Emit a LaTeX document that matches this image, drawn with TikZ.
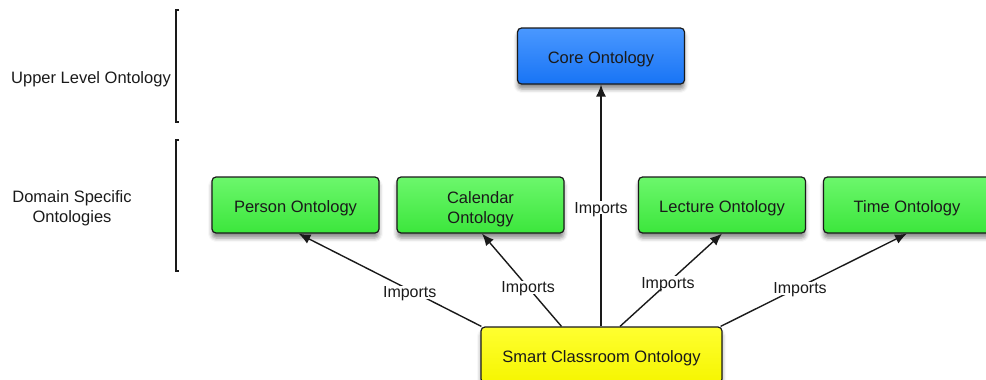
\documentclass[tikz,border=0pt]{standalone}
\usepackage{fontspec}
\setmainfont{Liberation Sans}
\usetikzlibrary{arrows.meta,shadows.blur}

\definecolor{inkdark}{HTML}{1A1A1A}
\definecolor{greenlight}{HTML}{6CF76C}
\definecolor{greendark}{HTML}{3CE63C}
\definecolor{bluelight}{HTML}{4A98FF}
\definecolor{bluedark}{HTML}{1874F5}
\definecolor{yellowlight}{HTML}{FFFF30}
\definecolor{yellowdark}{HTML}{F5F500}

\tikzset{
  onto/.style={draw=inkdark, line width=1.2pt, rounded corners=4pt,
    minimum width=167pt, minimum height=56pt, align=center,
    text=inkdark, font=\fontsize{16.5}{20}\selectfont,
    text height=15pt, text depth=0pt,
    blur shadow={shadow xshift=0pt, shadow yshift=-5pt,
      shadow blur radius=4pt, shadow opacity=45}},
  twolines/.style={text height=36pt, text depth=0pt},
  greenbox/.style={onto, top color=greenlight, bottom color=greendark},
  bluebox/.style={onto, top color=bluelight, bottom color=bluedark},
  yellowbox/.style={onto, top color=yellowlight, bottom color=yellowdark,
    minimum width=241pt},
  imp/.style={-{Latex[length=12pt,width=10pt]}, line width=1.4pt, draw=inkdark},
  implabel/.style={fill=white, inner sep=1pt, text=inkdark, text depth=0pt,
    font=\fontsize{16}{19}\selectfont},
  sidelabel/.style={align=center, text=inkdark, text depth=0pt,
    font=\fontsize{16.5}{20}\selectfont},
  bracketline/.style={line width=1.5pt, draw=inkdark}
}

\begin{document}
\begin{tikzpicture}[x=1pt, y=-1pt]
  \useasboundingbox (0,0) rectangle (986,380);
  \clip (0,0) rectangle (986,380);

  % level labels with their brackets
  \node[sidelabel] (upper) at (91,78) {Upper Level Ontology};
  \node[sidelabel] (domain) at (72,207) {Domain Specific\\Ontologies};
  \coordinate (b1top) at (176,10);
  \coordinate (b1bot) at (176,122);
  \coordinate (b2top) at (176,140);
  \coordinate (b2bot) at (176,271);
  \draw[bracketline] ([xshift=3pt]b1top) -- (b1top) -- (b1bot) -- ([xshift=3pt]b1bot);
  \draw[bracketline] ([xshift=3pt]b2top) -- (b2top) -- (b2bot) -- ([xshift=3pt]b2bot);

  % ontologies
  \node[bluebox] (core) at (601,56) {Core Ontology};
  \node[greenbox] (person) at (295.5,205) {Person Ontology};
  \node[greenbox, twolines] (calendar) at (480.5,205) {Calendar\\Ontology};
  \node[greenbox] (lecture) at (722,205) {Lecture Ontology};
  \node[greenbox] (time) at (907,205) {Time Ontology};
  \node[yellowbox] (smart) at (601.5,355) {Smart Classroom Ontology};

  % import relations
  \draw[imp] ([xshift=1pt]smart.north west) -- ([xshift=3pt]person.south)
    node[implabel, pos=0.37, xshift=-4pt] (i1) {Imports};
  \draw[imp] ([xshift=-40pt]smart.north) -- ([xshift=1.5pt]calendar.south)
    node[implabel, pos=0.42] (i2) {Imports};
  \draw[imp] ([xshift=-0.5pt]smart.north) -- (core.south)
    node[implabel, pos=0.49] (i3) {Imports};
  \draw[imp] ([xshift=18.5pt]smart.north) -- (lecture.south)
    node[implabel, pos=0.47] (i4) {Imports};
  \draw[imp] ([xshift=-2pt]smart.north east) -- (time.south)
    node[implabel, pos=0.41, xshift=3pt] (i5) {Imports};
\end{tikzpicture}
\end{document}
